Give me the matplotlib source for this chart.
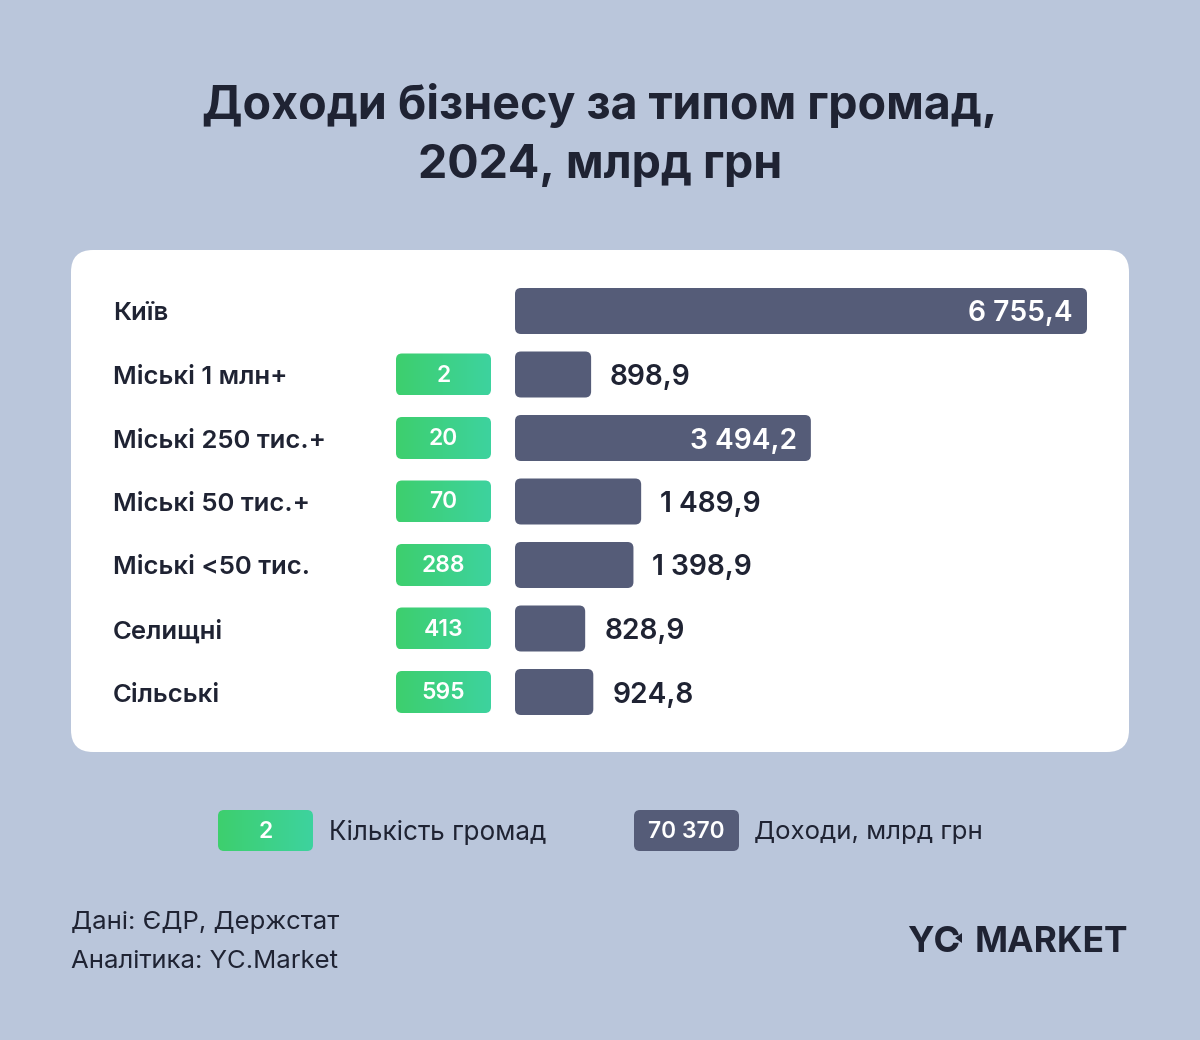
import numpy as np
import matplotlib
matplotlib.use("Agg")
import matplotlib.pyplot as plt
from matplotlib.patches import FancyBboxPatch, Polygon
from matplotlib import transforms

# ---- data ----
categories = ["Київ", "Міські 1 млн+", "Міські 250 тис.+", "Міські 50 тис.+",
              "Міські <50 тис.", "Селищні", "Сільські"]
revenue = [6755.4, 898.9, 3494.2, 1489.9, 1398.9, 828.9, 924.8]
communities = [None, 2, 20, 70, 288, 413, 595]
title_lines = ["Доходи бізнесу за типом громад,", "2024, млрд грн"]
legend_labels = ["Кількість громад", "Доходи, млрд грн"]
legend_samples = ["2", "70 370"]
source_lines = ["Дані: ЄДР, Держстат", "Аналітика: YC.Market"]

# ---- style ----
BG = "#BAC6DB"
DARK = "#1F2333"
BAR = "#555C78"
GREEN_L = "#3ECF6E"
GREEN_R = "#3DD39E"
plt.rcParams["font.family"] = ["Inter", "DejaVu Sans"]

W, H = 1200, 1040
fig = plt.figure(figsize=(W / 100, H / 100), dpi=100, facecolor=BG)

# background axes in pixel coordinates
ax = fig.add_axes([0, 0, 1, 1])
ax.set_xlim(0, W)
ax.set_ylim(H, 0)
ax.set_autoscale_on(False)
ax.axis("off")


def fmt(v):
    return f"{v:,.1f}".replace(",", " ").replace(".", ",")


def gradient_box(x, y, w, h, r, c1, c2):
    box = FancyBboxPatch((x, y), w, h, boxstyle=f"round,pad=0,rounding_size={r}",
                         fc="none", ec="none")
    ax.add_patch(box)
    grad = np.linspace(0, 1, 64).reshape(1, -1)
    cmap = matplotlib.colors.LinearSegmentedColormap.from_list("g", [c1, c2])
    im = ax.imshow(grad, extent=(x, x + w, y + h, y), cmap=cmap, aspect="auto",
                   interpolation="bilinear", zorder=3)
    im.set_clip_path(box)


# title
for k, line in enumerate(title_lines):
    ax.text(W / 2, 106 + k * 60, line, ha="center", va="center", fontsize=33.5,
            fontweight="bold", color=DARK)

# white panel
ax.add_patch(FancyBboxPatch((71, 250), 1058, 502,
                            boxstyle="round,pad=0,rounding_size=22",
                            fc="white", ec="none", zorder=1))

# bar axes: rows along y, revenue along x
row0, step = 311, 63.5
n = len(categories)
y_top = row0 - step / 2
y_bot = row0 + step * (n - 0.5)
bx0, bx1 = 515, 1087
bax = fig.add_axes([bx0 / W, 1 - y_bot / H, (bx1 - bx0) / W, (y_bot - y_top) / H])
bax.set_xlim(0, max(revenue))
bax.set_ylim(n - 0.5, -0.5)
bax.axis("off")
bax.patch.set_alpha(0)

ux = max(revenue) / (bx1 - bx0)       # x units per pixel
uy = n / (y_bot - y_top)              # rows per pixel
bar_h = 46 * uy
dy = 3 * uy                           # small downward text nudge
for i, v in enumerate(revenue):
    p = FancyBboxPatch((0, i - bar_h / 2), v, bar_h,
                       boxstyle=f"round,pad=0,rounding_size={6 * ux}",
                       mutation_aspect=uy / ux, fc=BAR, ec="none")
    bax.add_patch(p)
    if v > 3000:
        bax.text(v - 14 * ux, i + dy, fmt(v), ha="right", va="center", fontsize=20.3,
                 fontweight="semibold", color="white")
    else:
        bax.text(v + 19 * ux, i + dy, fmt(v), ha="left", va="center", fontsize=20.3,
                 fontweight="semibold", color=DARK)

# category labels and community badges (x in pixels, y in rows)
tr = transforms.blended_transform_factory(ax.transData, bax.transData)
for i, (cat, c) in enumerate(zip(categories, communities)):
    bax.text(113, i + dy, cat, transform=tr, ha="left", va="center", fontsize=18.5,
             fontweight="semibold", color=DARK, clip_on=False)
    if c is not None:
        yc = row0 + i * step
        gradient_box(396, yc - 21, 95, 42, 6, GREEN_L, GREEN_R)
        ax.text(443.5, yc + 1, str(c), ha="center", va="center", fontsize=16.5,
                fontweight="semibold", color="white", zorder=4)

# legend
gradient_box(218, 810, 95, 41, 6, GREEN_L, GREEN_R)
ax.text(265.5, 832, legend_samples[0], ha="center", va="center", fontsize=16.5,
        fontweight="semibold", color="white", zorder=4)
ax.text(329, 833, legend_labels[0], ha="left", va="center", fontsize=18.8, color=DARK)
ax.add_patch(FancyBboxPatch((634, 810), 105, 41, boxstyle="round,pad=0,rounding_size=6",
                            fc=BAR, ec="none", zorder=3))
ax.text(686.5, 832, legend_samples[1], ha="center", va="center", fontsize=16.5,
        fontweight="semibold", color="white", zorder=4)
ax.text(754, 833, legend_labels[1], ha="left", va="center", fontsize=18.6, color=DARK)

# sources
for k, line in enumerate(source_lines):
    ax.text(71, 923 + k * 38, line, ha="left", va="center", fontsize=18.5, color=DARK)

# logo
ax.text(907, 942, "YC", ha="left", va="center", fontsize=26, fontweight="bold",
        color=DARK)
ax.add_patch(Polygon([[955, 938], [962, 933], [962, 943]], closed=True,
                     fc=DARK, ec="none"))
ax.text(1128, 942, "MARKET", ha="right", va="center", fontsize=25.5, fontweight="bold",
        color=DARK)

fig.savefig("out.png", dpi=100, facecolor=BG)
